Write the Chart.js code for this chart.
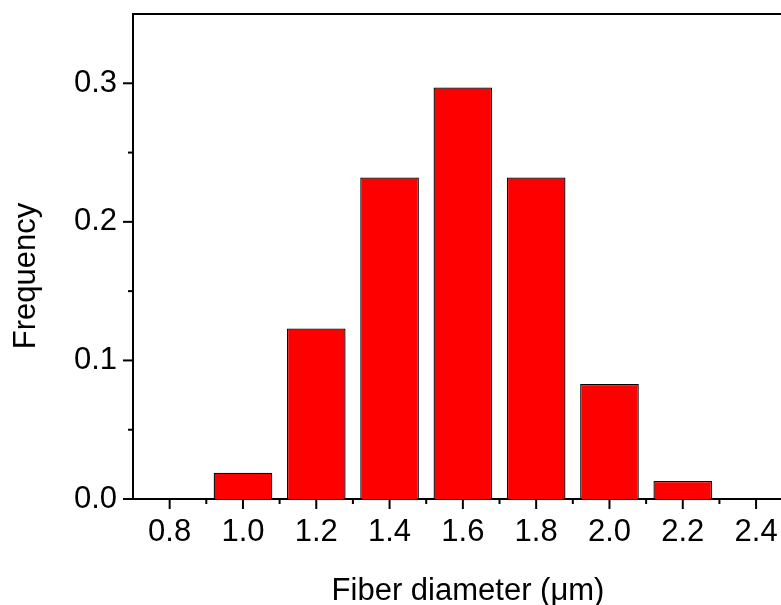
<!DOCTYPE html>
<html>
<head>
<meta charset="utf-8">
<script src="https://cdn.jsdelivr.net/npm/chart.js@4/dist/chart.umd.min.js"></script>
<style>
  html, body { margin: 0; padding: 0; background: #fff; }
  #wrap { width: 781px; height: 605px; }
</style>
</head>
<body>
<div id="wrap"><canvas id="c" width="781" height="605"></canvas></div>
<script>
// Data
const binCenters = [1.0, 1.2, 1.4, 1.6, 1.8, 2.0, 2.2];
const frequency  = [0.019, 0.123, 0.232, 0.297, 0.232, 0.083, 0.013];
const xTickLabels = [0.8, 1.0, 1.2, 1.4, 1.6, 1.8, 2.0, 2.2, 2.4];
const xMinorTicks = [0.7, 0.9, 1.1, 1.3, 1.5, 1.7, 1.9, 2.1, 2.3];
const yTickLabels = [0.0, 0.1, 0.2, 0.3];
const yMinorTicks = [0.05, 0.15, 0.25];
const xRange = [0.7, 2.468];
const yRange = [0, 0.35];
const xTitle = 'Fiber diameter (μm)';
const yTitle = 'Frequency';

const FONT = "'Liberation Sans', Arial, sans-serif";

const tickPlugin = {
  id: 'outerTicks',
  afterDraw(chart) {
    const ctx = chart.ctx;
    const xs = chart.scales.x, ys = chart.scales.y;
    const area = chart.chartArea;
    ctx.save();
    ctx.strokeStyle = '#000';
    ctx.lineWidth = 2;
    // top border
    ctx.beginPath();
    ctx.moveTo(area.left - 1, area.top);
    ctx.lineTo(area.right, area.top);
    ctx.stroke();
    const draw = (x1, y1, x2, y2) => { ctx.beginPath(); ctx.moveTo(x1, y1); ctx.lineTo(x2, y2); ctx.stroke(); };
    xTickLabels.forEach(v => { const p = xs.getPixelForValue(v); draw(p, area.bottom, p, area.bottom + 10); });
    xMinorTicks.forEach(v => { const p = xs.getPixelForValue(v); if (p > area.left + 2) draw(p, area.bottom, p, area.bottom + 5); });
    yTickLabels.forEach(v => { const p = ys.getPixelForValue(v); draw(area.left, p, area.left - 10, p); });
    yMinorTicks.forEach(v => { const p = ys.getPixelForValue(v); draw(area.left, p, area.left - 5, p); });
    // axis titles
    ctx.fillStyle = '#000';
    ctx.font = '31px ' + FONT;
    ctx.textAlign = 'center';
    ctx.textBaseline = 'alphabetic';
    ctx.fillText(xTitle, 468, 600);
    ctx.translate(35, 276);
    ctx.rotate(-Math.PI / 2);
    ctx.fillText(yTitle, 0, 0);
    ctx.restore();
  }
};

new Chart(document.getElementById('c'), {
  type: 'bar',
  data: {
    datasets: [{
      data: binCenters.map((x, i) => ({ x: x, y: frequency[i] })),
      backgroundColor: '#ff0000',
      borderColor: '#000',
      borderWidth: 1.3,
      barPercentage: 0.8,
      categoryPercentage: 1.0
    }]
  },
  options: {
    responsive: false,
    animation: false,
    devicePixelRatio: 1,
    layout: { padding: { top: 14, right: 0, left: 0, bottom: 0 } },
    plugins: { legend: { display: false }, tooltip: { enabled: false } },
    scales: {
      x: {
        type: 'linear',
        min: xRange[0], max: xRange[1],
        offset: false,
        grid: { display: false, drawTicks: false },
        border: { display: true, color: '#000', width: 2 },
        afterBuildTicks: s => { s.ticks = xTickLabels.map(v => ({ value: v })); },
        afterFit: s => { s.height = 106; s.paddingLeft = 0; s.paddingRight = 0; },
        ticks: {
          autoSkip: false, maxRotation: 0, padding: 15,
          color: '#000', font: { family: FONT, size: 31 },
          callback: v => Number(v).toFixed(1)
        },
        title: { display: false }
      },
      y: {
        type: 'linear',
        min: yRange[0], max: yRange[1],
        grid: { display: false, drawTicks: false },
        border: { display: true, color: '#000', width: 2 },
        afterBuildTicks: s => { s.ticks = yTickLabels.map(v => ({ value: v })); },
        afterFit: s => { s.width = 133; s.paddingTop = 0; s.paddingBottom = 0; },
        ticks: {
          padding: 16,
          color: '#000', font: { family: FONT, size: 31 },
          callback: v => Number(v).toFixed(1)
        },
        title: { display: false }
      }
    }
  },
  plugins: [tickPlugin]
});
</script>
</body>
</html>
